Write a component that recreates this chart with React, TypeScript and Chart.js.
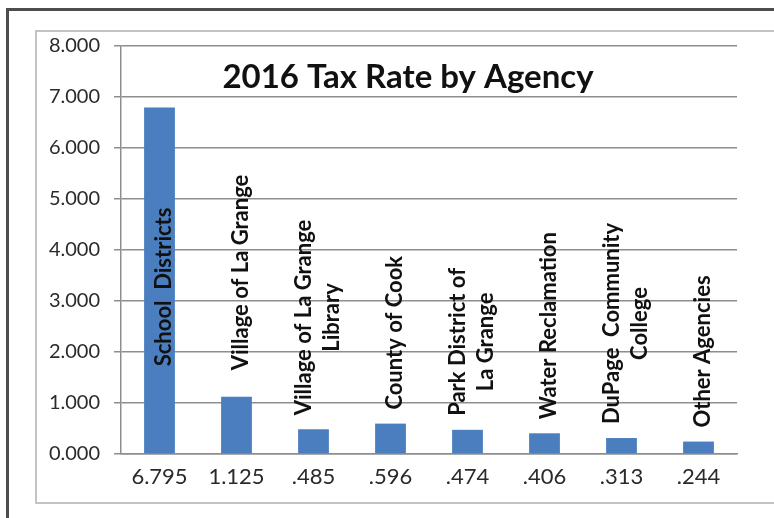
import { useEffect, useRef } from "react";
import { Chart, registerables } from "chart.js";

Chart.register(...registerables);

const chartTitle = "2016 Tax Rate by Agency";
const agencyNames: string[][] = [
  ["School  Districts"],
  ["Village of La Grange"],
  ["Village of La Grange", "Library"],
  ["County of Cook"],
  ["Park District of", "La Grange"],
  ["Water Reclamation"],
  ["DuPage  Community", "College"],
  ["Other Agencies"],
];
const taxRates = [6.795, 1.125, 0.485, 0.596, 0.474, 0.406, 0.313, 0.244];
const rateLabels = ["6.795", "1.125", ".485", ".596", ".474", ".406", ".313", ".244"];
const yMin = 0;
const yMax = 8;
const yStep = 1;

const GRID = "#8e8e8e";
const BAR = "#4a7ebf";
const FONT = "Lato, 'Open Sans', sans-serif";

const overlayPlugin = {
  id: "overlayText",
  afterDatasetsDraw(chart: any) {
    const { ctx, chartArea, scales } = chart;
    const yScale = scales.y;
    const meta = chart.getDatasetMeta(0);
    ctx.save();
    // title
    ctx.fillStyle = "#111";
    ctx.font = `bold 33px ${FONT}`;
    ctx.textAlign = "center";
    ctx.textBaseline = "alphabetic";
    ctx.fillText(chartTitle, (chartArea.left + chartArea.right) / 2 - 21, chartArea.top + 42);
    // agency names (rotated)
    ctx.font = `bold 22px ${FONT}`;
    const lineH = 28;
    const cap = yScale.getPixelForValue(1.72);
    meta.data.forEach((el: any, i: number) => {
      const lines = agencyNames[i];
      if (!lines) return;
      let bottom: number;
      if (el.y < cap) bottom = cap;
      else if (el.y - cap < 45) bottom = cap + 4;
      else bottom = el.y - 14;
      const widths = lines.map((l) => ctx.measureText(l).width);
      const w = Math.max(...widths);
      ctx.save();
      ctx.translate(el.x + 4, bottom);
      ctx.rotate(-Math.PI / 2);
      ctx.textAlign = "center";
      ctx.textBaseline = "middle";
      lines.forEach((l, j) => {
        const off = (j - (lines.length - 1) / 2) * lineH;
        ctx.fillText(l, w / 2, off);
      });
      ctx.restore();
    });
    ctx.restore();
  },
};

export default function App() {
  const ref = useRef<HTMLCanvasElement | null>(null);

  useEffect(() => {
    if (!ref.current) return;
    const chart = new Chart(ref.current, {
      type: "bar",
      data: {
        labels: rateLabels,
        datasets: [
          {
            data: taxRates,
            backgroundColor: BAR,
            borderWidth: 0,
            barPercentage: 0.8,
            categoryPercentage: 0.5,
          },
        ],
      },
      options: {
        animation: false,
        responsive: false,
        maintainAspectRatio: false,
        layout: { padding: { left: 0, right: 37, top: 14, bottom: 0 } },
        plugins: {
          legend: { display: false },
          title: { display: false },
          tooltip: { enabled: false },
        },
        scales: {
          x: {
            grid: { display: false },
            border: { display: true, color: GRID, width: 1.5 },
            ticks: {
              color: "#2a2a2a",
              font: { family: FONT, size: 22 },
              padding: 2,
              maxRotation: 0,
              autoSkip: false,
            },
            afterFit(scale: any) {
              scale.height = 48;
              scale.paddingLeft = 0;
              scale.paddingRight = 0;
            },
          },
          y: {
            min: yMin,
            max: yMax,
            grid: { color: GRID, lineWidth: 1.5, tickLength: 7, drawTicks: true },
            border: { display: true, color: GRID, width: 1.5 },
            ticks: {
              stepSize: yStep,
              color: "#2a2a2a",
              font: { family: FONT, size: 20 },
              padding: 14,
              callback: (v: any) => Number(v).toFixed(3),
            },
            afterFit(scale: any) {
              scale.width = 83;
              scale.paddingTop = 0;
              scale.paddingBottom = 0;
            },
          },
        },
      },
      plugins: [overlayPlugin],
    });
    return () => chart.destroy();
  }, []);

  return (
    <div
      style={{
        position: "fixed",
        left: 0,
        top: 0,
        width: 774,
        height: 518,
        background: "#fff",
        overflow: "hidden",
      }}
    >
      <div
        style={{
          position: "absolute",
          left: 6,
          top: 8,
          width: 768,
          height: 510,
          borderTop: "3px solid #4d4d4d",
          borderLeft: "3px solid #4d4d4d",
          boxSizing: "border-box",
        }}
      />
      <div
        style={{
          position: "absolute",
          left: 35,
          top: 30,
          width: 739,
          height: 474,
          borderTop: "2px solid #c4c4c4",
          borderLeft: "2px solid #c4c4c4",
          borderBottom: "2px solid #c4c4c4",
          boxSizing: "border-box",
        }}
      />
      <canvas
        ref={ref}
        width={736}
        height={470}
        style={{ position: "absolute", left: 38, top: 32, width: 736, height: 470 }}
      />
    </div>
  );
}
